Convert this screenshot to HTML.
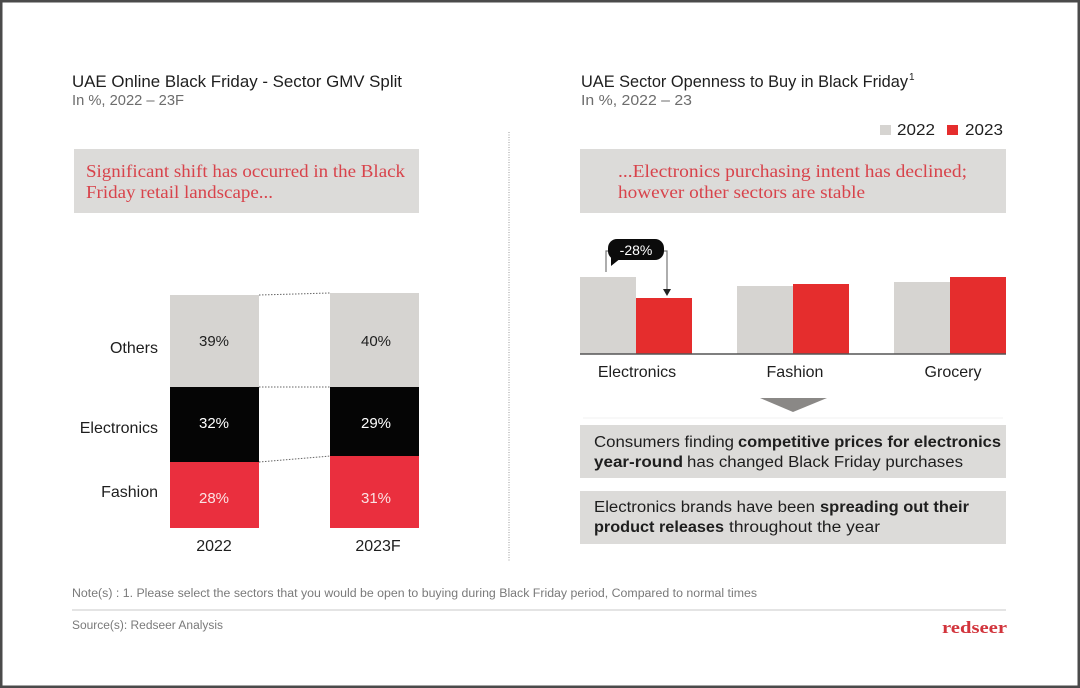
<!DOCTYPE html>
<html>
<head>
<meta charset="utf-8">
<style>
html,body{margin:0;padding:0;background:#fff;}
svg{display:block;}
.s{font-family:"Liberation Sans",Arial,sans-serif;}
.r{font-family:"Liberation Serif",serif;}
</style>
</head>
<body>
<svg width="1080" height="688" viewBox="0 0 1080 688" xmlns="http://www.w3.org/2000/svg">
<rect x="0" y="0" width="1080" height="688" fill="#fff"/>
<rect x="1.25" y="1.25" width="1077.5" height="685.5" fill="none" stroke="#4a4a4a" stroke-width="2.5"/>

<!-- LEFT titles -->
<text class="s" x="72" y="87" font-size="17" fill="#1e1e1e" textLength="330" lengthAdjust="spacingAndGlyphs">UAE Online Black Friday - Sector GMV Split</text>
<text class="s" x="72" y="105" font-size="15" fill="#6d6d6d" textLength="112" lengthAdjust="spacingAndGlyphs">In %, 2022 – 23F</text>

<!-- left callout box -->
<rect x="74" y="149" width="345" height="64" fill="#dcdbd9"/>
<text class="r" x="86" y="177" font-size="18" fill="#d8434b" textLength="319" lengthAdjust="spacingAndGlyphs">Significant shift has occurred in the Black</text>
<text class="r" x="86" y="198" font-size="18" fill="#d8434b" textLength="187" lengthAdjust="spacingAndGlyphs">Friday retail landscape...</text>

<!-- left stacked bars -->
<rect x="170" y="295" width="89" height="92" fill="#d6d4d1"/>
<rect x="170" y="387" width="89" height="75" fill="#050505"/>
<rect x="170" y="462" width="89" height="66" fill="#ea2f3e"/>
<rect x="330" y="293" width="89" height="94" fill="#d6d4d1"/>
<rect x="330" y="387" width="89" height="69" fill="#050505"/>
<rect x="330" y="456" width="89" height="72" fill="#ea2f3e"/>
<g stroke="#666" stroke-width="1" stroke-dasharray="1.5,1.5">
<line x1="259" y1="295" x2="330" y2="293"/>
<line x1="259" y1="387" x2="330" y2="387"/>
<line x1="259" y1="462" x2="330" y2="456"/>
</g>
<g class="s" font-size="16" fill="#1e1e1e" text-anchor="end">
<text x="158" y="353">Others</text>
<text x="158" y="433">Electronics</text>
<text x="158" y="497">Fashion</text>
</g>
<g class="s" font-size="15" text-anchor="middle">
<text x="214" y="346" fill="#1e1e1e">39%</text>
<text x="214" y="428" fill="#fff">32%</text>
<text x="214" y="503" fill="#fbe3e4">28%</text>
<text x="376" y="346" fill="#1e1e1e">40%</text>
<text x="376" y="428" fill="#fff">29%</text>
<text x="376" y="503" fill="#fbe3e4">31%</text>
</g>
<g class="s" font-size="16" fill="#1e1e1e" text-anchor="middle">
<text x="214" y="551">2022</text>
<text x="378" y="551">2023F</text>
</g>

<!-- divider -->
<line x1="509" y1="132" x2="509" y2="562" stroke="#9a9a9a" stroke-width="1" stroke-dasharray="1,1.5"/>

<!-- RIGHT titles -->
<text class="s" x="581" y="87" font-size="17" fill="#1e1e1e" textLength="327" lengthAdjust="spacingAndGlyphs">UAE Sector Openness to Buy in Black Friday</text>
<text class="s" x="909" y="80" font-size="10" fill="#1e1e1e">1</text>
<text class="s" x="581" y="105" font-size="15" fill="#6d6d6d" textLength="111" lengthAdjust="spacingAndGlyphs">In %, 2022 – 23</text>

<!-- legend -->
<rect x="880" y="125" width="11" height="10" fill="#d6d4d1"/>
<text class="s" x="897" y="135" font-size="16" fill="#1e1e1e" textLength="38" lengthAdjust="spacingAndGlyphs">2022</text>
<rect x="947" y="125" width="11" height="10" fill="#e52d2d"/>
<text class="s" x="965" y="135" font-size="16" fill="#1e1e1e" textLength="38" lengthAdjust="spacingAndGlyphs">2023</text>

<!-- right callout box -->
<rect x="580" y="149" width="426" height="64" fill="#dcdbd9"/>
<text class="r" x="618" y="177" font-size="18" fill="#d8434b" textLength="349" lengthAdjust="spacingAndGlyphs">...Electronics purchasing intent has declined;</text>
<text class="r" x="618" y="198" font-size="18" fill="#d8434b" textLength="247" lengthAdjust="spacingAndGlyphs">however other sectors are stable</text>

<!-- right bars -->
<rect x="580" y="277" width="56" height="77" fill="#d6d4d1"/>
<rect x="636" y="298" width="56" height="56" fill="#e52d2d"/>
<rect x="737" y="286" width="56" height="68" fill="#d6d4d1"/>
<rect x="793" y="284" width="56" height="70" fill="#e52d2d"/>
<rect x="894" y="282" width="56" height="72" fill="#d6d4d1"/>
<rect x="950" y="277" width="56" height="77" fill="#e52d2d"/>
<line x1="580" y1="354" x2="1006" y2="354" stroke="#555" stroke-width="1.5"/>

<!-- -28% callout -->
<g stroke="#777" stroke-width="1.2" fill="none">
<polyline points="606,272 606,251 610,251"/>
<polyline points="662,251 667,251 667,291"/>
</g>
<polygon points="663,289 671,289 667,296" fill="#222"/>
<rect x="608" y="239" width="56" height="21" rx="9" fill="#0b0b0b"/>
<polygon points="611,253 611,266 621,258" fill="#0b0b0b"/>
<text class="s" x="636" y="255" font-size="14" fill="#fff" text-anchor="middle">-28%</text>

<g class="s" font-size="16" fill="#1e1e1e" text-anchor="middle">
<text x="637" y="377">Electronics</text>
<text x="795" y="377">Fashion</text>
<text x="953" y="377">Grocery</text>
</g>

<!-- down triangle -->
<polygon points="760,398 827,398 793,412" fill="#8a8886"/>
<line x1="583" y1="418" x2="1003" y2="418" stroke="#f0f0f0" stroke-width="1"/>

<!-- insight boxes -->
<rect x="580" y="425" width="426" height="53" fill="#dcdbd9"/>
<text class="s" x="594" y="447" font-size="15.5" fill="#1e1e1e" textLength="140" lengthAdjust="spacingAndGlyphs">Consumers finding</text>
<text class="s" x="738" y="447" font-size="15.5" font-weight="bold" fill="#1e1e1e" textLength="263" lengthAdjust="spacingAndGlyphs">competitive prices for electronics</text>
<text class="s" x="594" y="467" font-size="15.5" font-weight="bold" fill="#1e1e1e" textLength="89" lengthAdjust="spacingAndGlyphs">year-round</text>
<text class="s" x="687" y="467" font-size="15.5" fill="#1e1e1e" textLength="276" lengthAdjust="spacingAndGlyphs">has changed Black Friday purchases</text>

<rect x="580" y="491" width="426" height="53" fill="#dcdbd9"/>
<text class="s" x="594" y="512" font-size="15.5" fill="#1e1e1e" textLength="221" lengthAdjust="spacingAndGlyphs">Electronics brands have been</text>
<text class="s" x="820" y="512" font-size="15.5" font-weight="bold" fill="#1e1e1e" textLength="149" lengthAdjust="spacingAndGlyphs">spreading out their</text>
<text class="s" x="594" y="532" font-size="15.5" font-weight="bold" fill="#1e1e1e" textLength="130" lengthAdjust="spacingAndGlyphs">product releases</text>
<text class="s" x="729" y="532" font-size="15.5" fill="#1e1e1e" textLength="151" lengthAdjust="spacingAndGlyphs">throughout the year</text>

<!-- footer -->
<text class="s" x="72" y="597" font-size="11.5" fill="#7a7a7a" textLength="685" lengthAdjust="spacingAndGlyphs">Note(s) : 1. Please select the sectors that you would be open to buying during Black Friday period, Compared to normal times</text>
<line x1="72" y1="610" x2="1006" y2="610" stroke="#c8c8c8" stroke-width="1"/>
<text class="s" x="72" y="629" font-size="11.5" fill="#7a7a7a" textLength="151" lengthAdjust="spacingAndGlyphs">Source(s): Redseer Analysis</text>
<text class="r" x="942" y="633" font-size="17" font-weight="bold" fill="#d2343c" textLength="65" lengthAdjust="spacingAndGlyphs">redseer</text>
</svg>
</body>
</html>
